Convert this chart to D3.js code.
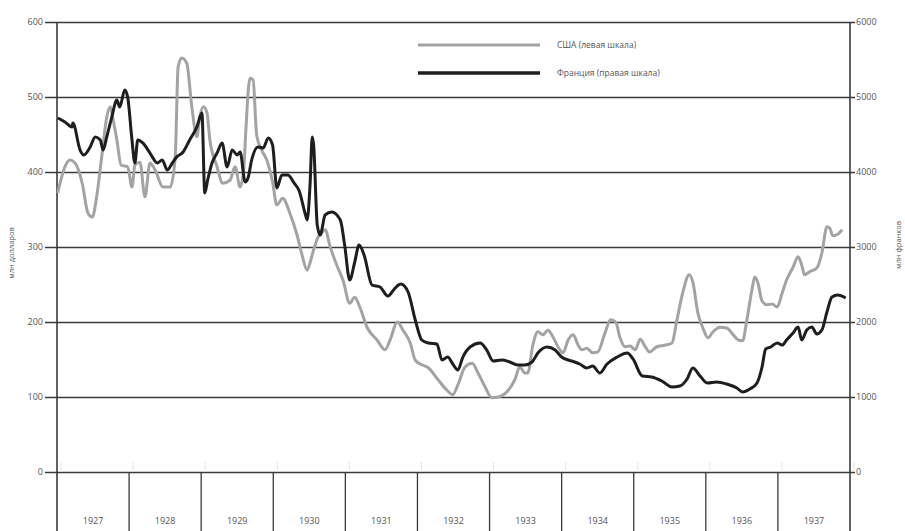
<!DOCTYPE html>
<html>
<head>
<meta charset="utf-8">
<script src="https://cdn.jsdelivr.net/npm/d3@7"></script>
<style>
  body { margin: 0; background: #fff; }
  svg { display: block; }
  text { font-family: "Open Sans", sans-serif; fill: #555; }
</style>
</head>
<body>
<script>
var w = 905;
var h = 531;

// Data (decimal year, value)
var years = [1927, 1928, 1929, 1930, 1931, 1932, 1933, 1934, 1935, 1936, 1937];
var leftTicks = [0, 100, 200, 300, 400, 500, 600];
var rightTicks = [0, 1000, 2000, 3000, 4000, 5000, 6000];

// USA, mln dollars (left scale)
var usa = [
  [1927.01, 372], [1927.11, 407], [1927.18, 416], [1927.25, 412], [1927.35, 385],
  [1927.43, 345], [1927.49, 340], [1927.55, 367], [1927.62, 420], [1927.69, 473],
  [1927.74, 487], [1927.78, 469], [1927.83, 443], [1927.89, 409], [1927.98, 407],
  [1928.04, 380], [1928.08, 409], [1928.15, 413], [1928.22, 367], [1928.29, 412],
  [1928.36, 403], [1928.47, 380], [1928.57, 380], [1928.64, 420], [1928.68, 540],
  [1928.73, 552], [1928.80, 545], [1928.87, 487], [1928.94, 447], [1928.98, 473],
  [1929.03, 487], [1929.08, 479], [1929.12, 443], [1929.22, 407], [1929.30, 385],
  [1929.40, 389], [1929.47, 407], [1929.54, 380], [1929.59, 403], [1929.62, 456],
  [1929.66, 516], [1929.68, 525], [1929.72, 523], [1929.77, 449], [1929.84, 429],
  [1929.91, 416], [1929.99, 387], [1930.05, 356], [1930.13, 365], [1930.23, 345],
  [1930.33, 316], [1930.40, 289], [1930.47, 269], [1930.51, 279], [1930.55, 293],
  [1930.62, 313], [1930.68, 320], [1930.72, 323], [1930.79, 300], [1930.88, 276],
  [1930.97, 255], [1931.06, 225], [1931.13, 233], [1931.20, 220], [1931.30, 193],
  [1931.44, 176], [1931.55, 163], [1931.62, 176], [1931.72, 200], [1931.80, 189],
  [1931.90, 172], [1931.97, 149], [1932.06, 143], [1932.15, 139], [1932.27, 125],
  [1932.41, 109], [1932.49, 103], [1932.56, 116], [1932.66, 140], [1932.76, 145],
  [1932.84, 132], [1932.94, 113], [1933.03, 99], [1933.12, 100], [1933.26, 109],
  [1933.35, 123], [1933.42, 140], [1933.49, 132], [1933.53, 132], [1933.60, 169],
  [1933.67, 187], [1933.74, 183], [1933.81, 189], [1933.88, 180], [1933.95, 167],
  [1934.02, 159], [1934.09, 176], [1934.16, 183], [1934.23, 169], [1934.28, 163],
  [1934.35, 165], [1934.43, 159], [1934.50, 160], [1934.60, 185], [1934.68, 203],
  [1934.75, 200], [1934.81, 179], [1934.88, 167], [1934.95, 168], [1935.02, 163],
  [1935.09, 177], [1935.16, 167], [1935.22, 160], [1935.32, 167], [1935.43, 169],
  [1935.53, 172], [1935.60, 203], [1935.68, 239], [1935.77, 263], [1935.82, 253],
  [1935.89, 212], [1935.96, 192], [1936.03, 179], [1936.10, 187], [1936.20, 193],
  [1936.29, 192], [1936.38, 183], [1936.45, 176], [1936.51, 175], [1936.57, 203],
  [1936.64, 243], [1936.68, 260], [1936.72, 253], [1936.78, 228], [1936.85, 223],
  [1936.92, 224], [1936.99, 220], [1937.06, 239], [1937.12, 256], [1937.21, 273],
  [1937.28, 287], [1937.33, 276], [1937.37, 263], [1937.44, 267], [1937.54, 272],
  [1937.61, 292], [1937.68, 327], [1937.72, 325], [1937.76, 315], [1937.83, 317],
  [1937.89, 323]
];

// France, mln francs (right scale)
var france = [
  [1927.01, 4720], [1927.11, 4667], [1927.21, 4600], [1927.22, 4653], [1927.32, 4293],
  [1927.37, 4227], [1927.46, 4333], [1927.53, 4467], [1927.60, 4427], [1927.64, 4293],
  [1927.69, 4467], [1927.76, 4733], [1927.83, 4960], [1927.87, 4867], [1927.94, 5093],
  [1927.98, 5000], [1928.04, 4427], [1928.08, 4120], [1928.12, 4427], [1928.19, 4387],
  [1928.29, 4253], [1928.39, 4120], [1928.46, 4160], [1928.53, 4027], [1928.60, 4120],
  [1928.66, 4200], [1928.75, 4267], [1928.84, 4427], [1928.94, 4600], [1929.01, 4787],
  [1929.05, 3720], [1929.09, 3893], [1929.15, 4120], [1929.22, 4253], [1929.29, 4387],
  [1929.36, 4067], [1929.43, 4293], [1929.50, 4227], [1929.54, 4267], [1929.61, 3867],
  [1929.65, 3920], [1929.70, 4160], [1929.79, 4333], [1929.86, 4320], [1929.93, 4453],
  [1929.99, 4360], [1930.05, 3787], [1930.12, 3960], [1930.20, 3960], [1930.29, 3853],
  [1930.36, 3747], [1930.44, 3453], [1930.47, 3360], [1930.51, 3827], [1930.54, 4467],
  [1930.56, 4360], [1930.61, 3293], [1930.65, 3160], [1930.72, 3427], [1930.81, 3467],
  [1930.93, 3360], [1930.99, 3027], [1931.06, 2560], [1931.13, 2800], [1931.19, 3027],
  [1931.26, 2893], [1931.37, 2493], [1931.48, 2467], [1931.59, 2347], [1931.69, 2453],
  [1931.77, 2507], [1931.87, 2400], [1931.97, 2027], [1932.06, 1760], [1932.15, 1720],
  [1932.27, 1707], [1932.34, 1493], [1932.42, 1533], [1932.49, 1440], [1932.56, 1360],
  [1932.63, 1533], [1932.73, 1667], [1932.87, 1720], [1932.96, 1627], [1933.05, 1480],
  [1933.17, 1493], [1933.28, 1467], [1933.39, 1427], [1933.49, 1427], [1933.59, 1467],
  [1933.67, 1587], [1933.80, 1667], [1933.91, 1627], [1934.00, 1533], [1934.09, 1493],
  [1934.18, 1467], [1934.25, 1440], [1934.35, 1387], [1934.43, 1413], [1934.53, 1320],
  [1934.63, 1440], [1934.77, 1533], [1934.91, 1587], [1934.99, 1507], [1935.12, 1280],
  [1935.25, 1267], [1935.39, 1213], [1935.53, 1133], [1935.64, 1147], [1935.74, 1240],
  [1935.82, 1387], [1935.92, 1280], [1936.02, 1187], [1936.15, 1200], [1936.29, 1173],
  [1936.43, 1120], [1936.51, 1067], [1936.61, 1107], [1936.71, 1187], [1936.78, 1400],
  [1936.83, 1640], [1936.90, 1667], [1936.99, 1720], [1937.06, 1693], [1937.12, 1760],
  [1937.21, 1853], [1937.28, 1933], [1937.33, 1760], [1937.40, 1893], [1937.47, 1933],
  [1937.54, 1840], [1937.61, 1893], [1937.68, 2133], [1937.75, 2333], [1937.83, 2360],
  [1937.94, 2320]
];

var legendLabels = ["США (левая шкала)", "Франция (правая шкала)"];

var svg = d3.select("body")
            .append("svg")
            .attr("width", w)
            .attr("height", h);

var plotLeft = 57, plotRight = 850, plotTop = 22, zeroY = 472;

var xScale = d3.scaleLinear().domain([1927, 1938]).range([plotLeft, plotRight]);
var yLeft = d3.scaleLinear().domain([0, 600]).range([zeroY, plotTop]);
var yRight = d3.scaleLinear().domain([0, 6000]).range([zeroY, plotTop]);

// Gridlines with left labels
var leftAxis = d3.axisLeft(yLeft)
                 .tickValues(leftTicks)
                 .tickFormat(d3.format("d"))
                 .tickSize(-(plotRight + 5 - plotLeft + 12))
                 .tickPadding(2);
var gl = svg.append("g")
            .attr("transform", "translate(" + (plotLeft - 12) + ",0)")
            .call(leftAxis);
gl.select(".domain").remove();
gl.selectAll(".tick line").attr("stroke", "#3a3a3a").attr("stroke-width", 1.6);
gl.selectAll(".tick text").attr("font-size", 9).attr("fill", "#666")
  .style("font-family", "'Open Sans', sans-serif");

// Right labels
var rightAxis = d3.axisRight(yRight)
                  .tickValues(rightTicks)
                  .tickFormat(d3.format("d"))
                  .tickSize(0)
                  .tickPadding(0);
var gr = svg.append("g")
            .attr("transform", "translate(" + (plotRight + 6) + ",0)")
            .call(rightAxis);
gr.select(".domain").remove();
gr.selectAll(".tick text").attr("font-size", 9).attr("fill", "#666")
  .style("font-family", "'Open Sans', sans-serif");

// faint tick marks above the zero line
svg.selectAll(".faint")
   .data(d3.range(1927, 1939))
   .enter()
   .append("line")
   .attr("x1", function(d) { return xScale(d) + 4; })
   .attr("x2", function(d) { return xScale(d) + 4; })
   .attr("y1", zeroY - 10)
   .attr("y2", zeroY)
   .attr("stroke", "#e4e4e4")
   .attr("stroke-width", 1);

// vertical axis lines
[plotLeft, plotRight].forEach(function(x) {
  svg.append("line")
     .attr("x1", x).attr("x2", x)
     .attr("y1", plotTop).attr("y2", h)
     .attr("stroke", "#3a3a3a").attr("stroke-width", 1.6);
});

// year cells
svg.selectAll(".sep")
   .data(years.slice(1))
   .enter()
   .append("line")
   .attr("x1", function(d) { return xScale(d); })
   .attr("x2", function(d) { return xScale(d); })
   .attr("y1", zeroY)
   .attr("y2", h)
   .attr("stroke", "#3a3a3a")
   .attr("stroke-width", 1.3);

svg.selectAll(".year")
   .data(years)
   .enter()
   .append("text")
   .attr("x", function(d) { return xScale(d + 0.5); })
   .attr("y", 524)
   .attr("text-anchor", "middle")
   .attr("font-size", 9)
   .attr("fill", "#555")
   .text(function(d) { return d; });

// axis titles
svg.append("text")
   .attr("transform", "translate(14,253) rotate(-90)")
   .attr("text-anchor", "middle")
   .attr("font-size", 7.5)
   .attr("fill", "#666")
   .text("млн долларов");

svg.append("text")
   .attr("transform", "translate(901,245) rotate(-90)")
   .attr("text-anchor", "middle")
   .attr("font-size", 7.5)
   .attr("fill", "#666")
   .text("млн франков");

// lines
var usaLine = d3.line()
                .x(function(d) { return xScale(d[0]); })
                .y(function(d) { return yLeft(d[1]); })
                .curve(d3.curveMonotoneX);

var frLine = d3.line()
               .x(function(d) { return xScale(d[0]); })
               .y(function(d) { return yRight(d[1]); })
               .curve(d3.curveMonotoneX);

svg.append("path")
   .datum(usa)
   .attr("d", usaLine)
   .attr("fill", "none")
   .attr("stroke", "#a3a3a3")
   .attr("stroke-width", 3)
   .attr("stroke-linejoin", "round");

svg.append("path")
   .datum(france)
   .attr("d", frLine)
   .attr("fill", "none")
   .attr("stroke", "#1e1e1e")
   .attr("stroke-width", 3)
   .attr("stroke-linejoin", "round");

// legend
var legendColors = ["#a3a3a3", "#1e1e1e"];
var legendY = [45, 73];
legendLabels.forEach(function(lbl, i) {
  svg.append("line")
     .attr("x1", 418).attr("x2", 540)
     .attr("y1", legendY[i]).attr("y2", legendY[i])
     .attr("stroke", legendColors[i])
     .attr("stroke-width", i === 0 ? 3 : 3.5);
  svg.append("text")
     .attr("x", 557)
     .attr("y", legendY[i] + 3)
     .attr("font-size", 8.5)
     .attr("fill", "#555")
     .text(lbl);
});
</script>
</body>
</html>
